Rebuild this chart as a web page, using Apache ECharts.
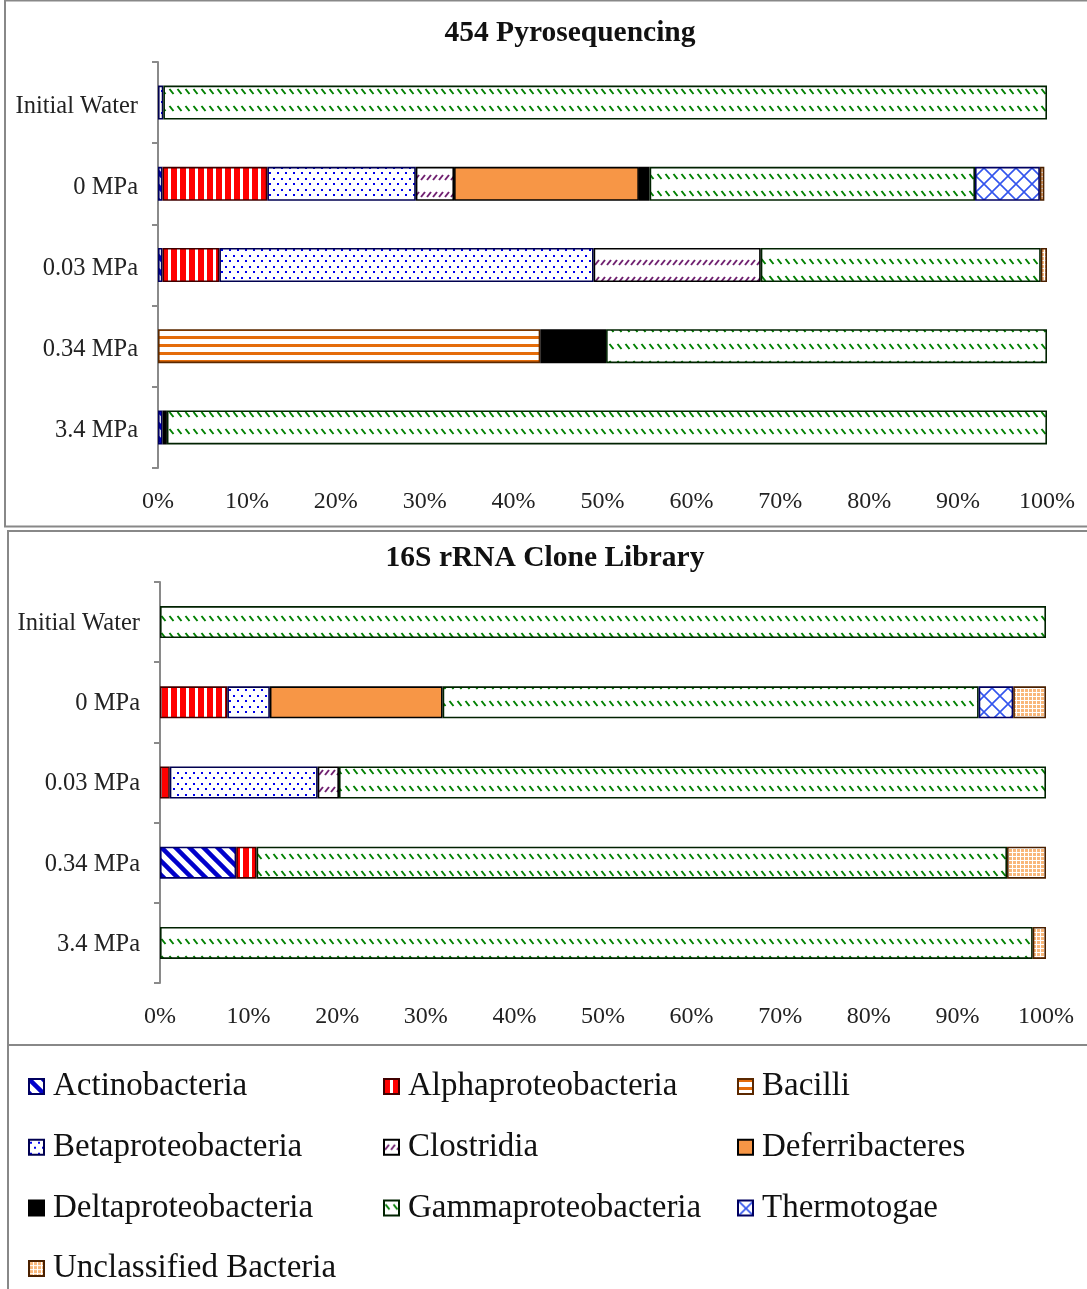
<!DOCTYPE html>
<html>
<head>
<meta charset="utf-8">
<script src="https://cdn.jsdelivr.net/npm/echarts@6/dist/echarts.min.js"></script>
<style>
html,body{margin:0;padding:0;background:#fff;}
#chart{width:1087px;height:1289px;}
</style>
</head>
<body>
<div id="chart"></div>
<script>
// ---------- DATA ----------
const categories = ['Initial Water', '0 MPa', '0.03 MPa', '0.34 MPa', '3.4 MPa'];
const xTicks = [0, 10, 20, 30, 40, 50, 60, 70, 80, 90, 100];
const taxa = ['Actinobacteria', 'Alphaproteobacteria', 'Bacilli', 'Betaproteobacteria', 'Clostridia',
  'Deferribacteres', 'Deltaproteobacteria', 'Gammaproteobacteria', 'Thermotogae', 'Unclassified Bacteria'];

// 454 Pyrosequencing (% of sequences), order = categories
const pyroActinobacteria      = [0,    0.5,  0.5,  0,    0.5];
const pyroAlphaproteobacteria = [0,    11.8, 6.4,  0,    0];
const pyroBacilli             = [0,    0,    0,    43.0, 0];
const pyroBetaproteobacteria  = [0.6,  16.7, 42.1, 0,    0];
const pyroClostridia          = [0,    4.3,  18.8, 0,    0];
const pyroDeferribacteres     = [0,    20.8, 0,    0,    0];
const pyroDeltaproteobacteria = [0,    1.2,  0,    7.4,  0.5];
const pyroGammaproteobacteria = [99.4, 36.6, 31.5, 49.6, 99.0];
const pyroThermotogae         = [0,    7.3,  0,    0,    0];
const pyroUnclassified        = [0,    0.5,  0.7,  0,    0];

// 16S rRNA Clone Library (% of clones)
const cloneActinobacteria      = [0,   0,    0,    8.6,  0];
const cloneAlphaproteobacteria = [0,   7.6,  1.1,  2.3,  0];
const cloneBacilli             = [0,   0,    0,    0,    0];
const cloneBetaproteobacteria  = [0,   4.8,  16.7, 0,    0];
const cloneClostridia          = [0,   0,    2.4,  0,    0];
const cloneDeferribacteres     = [0,   19.5, 0,    0,    0];
const cloneDeltaproteobacteria = [0,   0,    0,    0,    0];
const cloneGammaproteobacteria = [100, 60.5, 79.8, 84.7, 98.5];
const cloneThermotogae         = [0,   3.9,  0,    0,    0];
const cloneUnclassified        = [0,   3.7,  0,    4.4,  1.5];

const pyroData = [pyroActinobacteria, pyroAlphaproteobacteria, pyroBacilli, pyroBetaproteobacteria,
  pyroClostridia, pyroDeferribacteres, pyroDeltaproteobacteria, pyroGammaproteobacteria,
  pyroThermotogae, pyroUnclassified];
const cloneData = [cloneActinobacteria, cloneAlphaproteobacteria, cloneBacilli, cloneBetaproteobacteria,
  cloneClostridia, cloneDeferribacteres, cloneDeltaproteobacteria, cloneGammaproteobacteria,
  cloneThermotogae, cloneUnclassified];

// ---------- PATTERNS ----------
function pat(w, h, bg, draw) {
  const c = document.createElement('canvas');
  c.width = w; c.height = h;
  const g = c.getContext('2d');
  g.fillStyle = bg; g.fillRect(0, 0, w, h);
  if (draw) draw(g);
  return { image: c, repeat: 'repeat' };
}
const styles = {
  'Actinobacteria': { color: pat(14, 14, '#fff', g => {
      g.strokeStyle = '#0000cc'; g.lineWidth = 4.5; g.lineCap = 'square';
      [-14, 0, 14].forEach(k => { g.beginPath(); g.moveTo(k, 0); g.lineTo(k + 14, 14); g.stroke(); });
    }), border: '#000060' },
  'Alphaproteobacteria': { color: pat(9, 4, '#fff', g => { g.fillStyle = '#ff0000'; g.fillRect(0, 0, 6, 4); }), border: '#400000' },
  'Bacilli': { color: pat(4, 8, '#fff', g => { g.fillStyle = '#e46c0a'; g.fillRect(0, 0, 4, 3); }), border: '#5a2800' },
  'Betaproteobacteria': { color: pat(8, 11, '#fff', g => {
      g.fillStyle = '#0000ee';
      g.fillRect(1, 2, 2, 2); g.fillRect(5, 7, 2, 2);
    }), border: '#000050' },
  'Clostridia': { color: pat(6, 17, '#fff', g => {
      g.strokeStyle = '#702070'; g.lineWidth = 2;
      g.beginPath(); g.moveTo(1, 10); g.lineTo(5, 5); g.stroke();
    }), border: '#000' },
  'Deferribacteres': { color: '#f79646', border: '#000' },
  'Deltaproteobacteria': { color: '#000000', border: '#000' },
  'Gammaproteobacteria': { color: pat(8, 17, '#fff', g => {
      g.strokeStyle = '#008000'; g.lineWidth = 2;
      g.beginPath(); g.moveTo(1.5, 4); g.lineTo(5.5, 9); g.stroke();
    }), border: '#002200' },
  'Thermotogae': { color: pat(16, 16, '#fff', g => {
      g.strokeStyle = '#3355ee'; g.lineWidth = 1.6;
      g.beginPath(); g.moveTo(0, 0); g.lineTo(16, 16); g.moveTo(16, 0); g.lineTo(0, 16); g.stroke();
    }), border: '#000060' },
  'Unclassified Bacteria': { color: pat(4, 4, '#f9b77a', g => {
      g.fillStyle = '#fff'; g.fillRect(0, 0, 4, 1); g.fillRect(0, 0, 1, 4);
    }), border: '#4a2000' }
};

// ---------- CHART ----------
const FONT = "'Liberation Serif', 'DejaVu Serif', serif";
const chart = echarts.init(document.getElementById('chart'), null, { renderer: 'canvas' });

function mkSeries(dataSets, idx, barW) {
  return taxa.map((name, i) => ({
    name: name,
    type: 'bar',
    stack: 'total' + idx,
    xAxisIndex: idx,
    yAxisIndex: idx,
    barWidth: barW,
    data: dataSets[i].map(v => (v === 0 ? '-' : v)),
    itemStyle: { color: styles[name].color, borderColor: styles[name].border, borderWidth: 1.6 },
    emphasis: { disabled: true }
  }));
}

function xAx(idx) {
  return {
    gridIndex: idx, type: 'value', min: xTicks[0], max: xTicks[xTicks.length - 1], interval: 10,
    axisLine: { show: false }, axisTick: { show: false }, splitLine: { show: false },
    axisLabel: { formatter: '{value}%', fontFamily: FONT, fontSize: 24, color: '#222', margin: 22 }
  };
}
function yAx(idx, padTop) {
  return {
    gridIndex: idx, type: 'category', data: categories, inverse: true,
    axisLine: { show: true, lineStyle: { color: '#8a8a8a', width: 2 } },
    axisTick: { show: true, length: 6, lineStyle: { color: '#8a8a8a', width: 2 } },
    axisLabel: {
      margin: 20,
      formatter: v => '{a|' + v + '}',
      rich: { a: { fontFamily: FONT, fontSize: 24.5, color: '#222', padding: [padTop, 0, 0, 0] } }
    }
  };
}

const legendText = { fontFamily: FONT, fontSize: 33, color: '#111', padding: [0, 0, 0, 4] };
function leg(names, left) {
  return {
    orient: 'vertical', left: left, top: 1070, height: 240, padding: 0, data: names,
    icon: 'rect', itemWidth: 15, itemHeight: 15, itemGap: 27.7,
    textStyle: legendText, selectedMode: false
  };
}

const option = {
  backgroundColor: '#fff',
  animation: false,
  grid: [
    { left: 158, right: 40, top: 62, height: 406 },
    { left: 160, right: 41, top: 582, height: 401 }
  ],
  xAxis: [xAx(0), xAx(1)],
  yAxis: [yAx(0, 7), yAx(1, 3)],
  legend: [
    leg(['Actinobacteria', 'Betaproteobacteria', 'Deltaproteobacteria', 'Unclassified Bacteria'], 28),
    leg(['Alphaproteobacteria', 'Clostridia', 'Gammaproteobacteria'], 383),
    leg(['Bacilli', 'Deferribacteres', 'Thermotogae'], 737)
  ],
  graphic: [
    { type: 'rect', shape: { x: 5, y: 0.5, width: 1090, height: 526 }, style: { fill: 'none', stroke: '#888', lineWidth: 2 }, silent: true },
    { type: 'rect', shape: { x: 8, y: 531, width: 1090, height: 514 }, style: { fill: 'none', stroke: '#888', lineWidth: 2 }, silent: true },
    { type: 'rect', shape: { x: 8, y: 1045, width: 1090, height: 250 }, style: { fill: 'none', stroke: '#888', lineWidth: 2 }, silent: true },
    { type: 'text', x: 570, y: 33, style: { text: '454 Pyrosequencing', font: "bold 29.5px 'Liberation Serif', serif", fill: '#111', textAlign: 'center', textVerticalAlign: 'middle' }, silent: true },
    { type: 'text', x: 545, y: 558, style: { text: '16S rRNA Clone Library', font: "bold 29.5px 'Liberation Serif', serif", fill: '#111', textAlign: 'center', textVerticalAlign: 'middle' }, silent: true }
  ],
  series: mkSeries(pyroData, 0, 34).concat(mkSeries(cloneData, 1, 32))
};
chart.setOption(option);
</script>
</body>
</html>
